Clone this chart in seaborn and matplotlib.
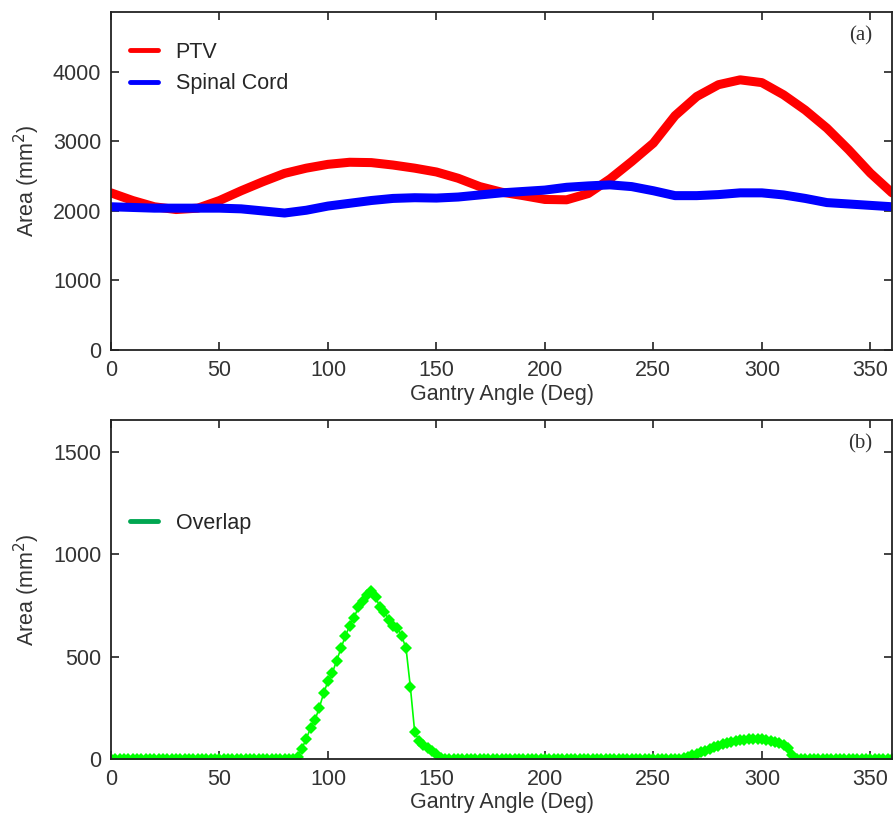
import numpy as np
import pandas as pd
import matplotlib
matplotlib.use("Agg")
import matplotlib.pyplot as plt
from matplotlib.lines import Line2D
import seaborn as sns

# Gantry angles (deg) for the structure areas
angle = list(range(0, 361, 10))
ptv_area = [2260, 2150, 2060, 2020, 2040, 2150, 2290, 2420, 2540, 2615,
            2670, 2700, 2695, 2660, 2615, 2560, 2470, 2350, 2270, 2220,
            2165, 2160, 2250, 2460, 2710, 2975, 3370, 3645, 3815, 3885,
            3845, 3670, 3450, 3190, 2880, 2545, 2260]
cord_area = [2060, 2050, 2040, 2040, 2040, 2040, 2030, 2000, 1970, 2010,
             2070, 2110, 2150, 2180, 2190, 2185, 2200, 2230, 2260, 2280,
             2300, 2340, 2360, 2375, 2350, 2290, 2220, 2220, 2235, 2260,
             2260, 2230, 2180, 2120, 2100, 2080, 2060]

# Overlap area, every 2 deg
ov_angle = list(range(0, 361, 2))
ov_area = ([0] * 43 +
           [10, 50, 100, 150, 190, 250, 320, 380, 420, 480, 540, 600, 650, 690,
            740, 770, 800, 820, 790, 740, 720, 680, 650, 640, 600, 540, 350, 130,
            90, 70, 55, 40, 25, 5] +
           [0] * 55 +
           [5, 10, 18, 25, 33, 41, 49, 57, 65, 71, 77, 83, 88, 92, 95, 98, 100,
            100, 98, 95, 90, 85, 78, 70, 55, 20] +
           [0] * 23)

sns.set_style("ticks")
plt.rcParams['font.family'] = ['Liberation Sans', 'DejaVu Sans']

df = pd.DataFrame({"angle": angle, "PTV": ptv_area, "Spinal Cord": cord_area})
df_ov = pd.DataFrame({"angle": ov_angle, "Overlap": ov_area})

fig = plt.figure(figsize=(8.93, 8.24), dpi=100)
ax1 = fig.add_axes([0.1243, 0.5752, 0.8746, 0.4102])
ax2 = fig.add_axes([0.1243, 0.0789, 0.8746, 0.4114])

sns.lineplot(data=df, x="angle", y="PTV", ax=ax1, color="#ff0000", linewidth=6.5)
sns.lineplot(data=df, x="angle", y="Spinal Cord", ax=ax1, color="#0000ff", linewidth=6.5)
sns.lineplot(data=df_ov, x="angle", y="Overlap", ax=ax2, color="#00ff00", linewidth=1.2,
             marker="D", markersize=6, markeredgewidth=0)

tick_col = "#333333"
for ax, ymax, yt in [(ax1, 4860, [0, 1000, 2000, 3000, 4000]),
                     (ax2, 1655, [0, 500, 1000, 1500])]:
    ax.set_xlim(0, 360)
    ax.set_ylim(0, ymax)
    ax.set_xticks([0, 50, 100, 150, 200, 250, 300, 350])
    ax.set_yticks(yt)
    ax.tick_params(direction="in", top=True, right=True, length=6, width=1.2,
                   labelsize=15.5, labelcolor=tick_col, color="#222222", pad=7)
    for s in ax.spines.values():
        s.set_color("#222222")
        s.set_linewidth(1.3)
    ax.set_xlabel("Gantry Angle (Deg)", fontsize=15.5, color=tick_col, labelpad=2)
    ax.set_ylabel("Area (mm$^2$)", fontsize=15.5, color=tick_col, labelpad=8)

ax1.text(0.975, 0.93, "(a)", transform=ax1.transAxes, ha="right", va="center",
         fontsize=15, family="Liberation Serif", color="#333333")
ax2.text(0.975, 0.93, "(b)", transform=ax2.transAxes, ha="right", va="center",
         fontsize=15, family="Liberation Serif", color="#333333")

h1 = [Line2D([0], [0], color="#ff0000", lw=3.5), Line2D([0], [0], color="#0000ff", lw=3.5)]
ax1.legend(h1, ["PTV", "Spinal Cord"], loc="upper left", frameon=False, fontsize=15.5,
           handlelength=1.3, handletextpad=0.8, labelspacing=0.5,
           bbox_to_anchor=(0.0, 0.97))
h2 = [Line2D([0], [0], color="#00a651", lw=3.5)]
ax2.legend(h2, ["Overlap"], loc="center left", frameon=False, fontsize=15.5,
           handlelength=1.3, handletextpad=0.8, bbox_to_anchor=(0.0, 0.695))

fig.savefig("out.png", dpi=100)
